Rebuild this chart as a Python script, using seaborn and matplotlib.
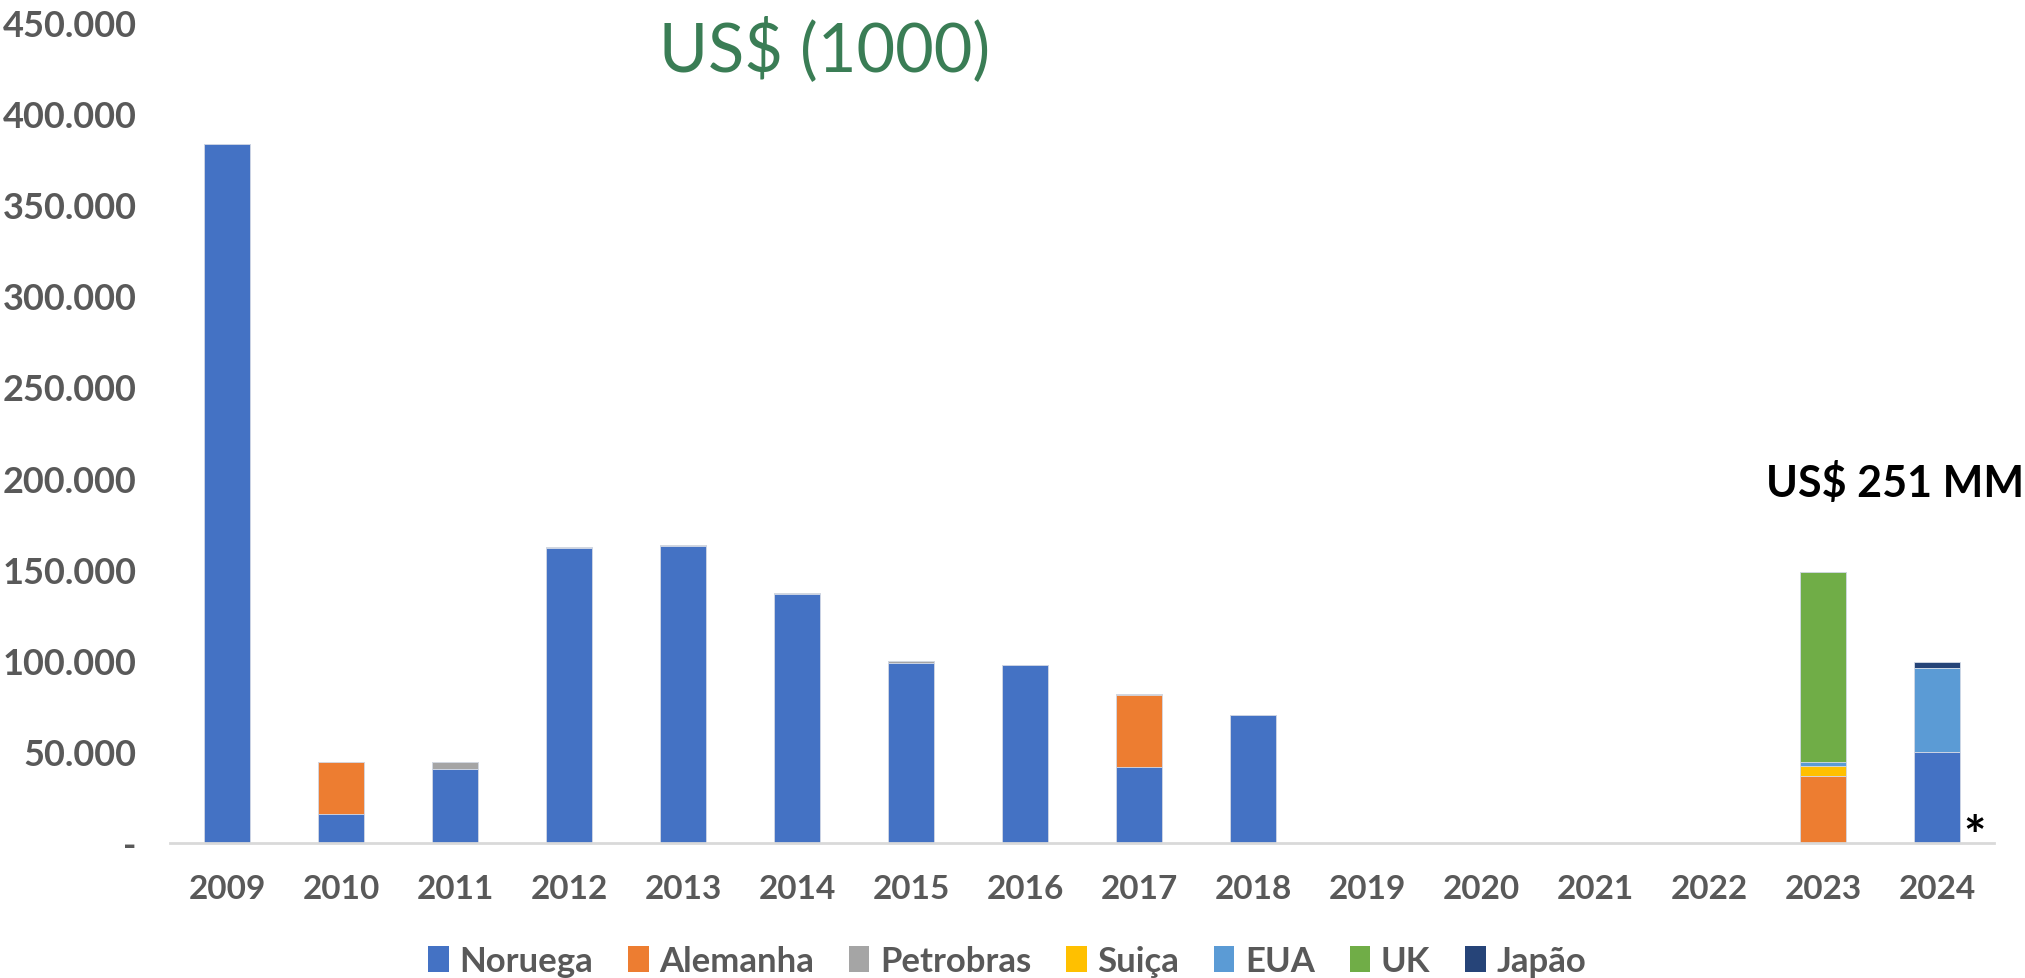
import numpy as np
import pandas as pd
import seaborn as sns
import matplotlib.pyplot as plt
from matplotlib.patches import Patch
from matplotlib.ticker import FuncFormatter

years = [str(y) for y in range(2009, 2025)]

# US$ (1000)
noruega   = [383000, 15700, 40300, 161700, 163000, 136700, 98500, 97800, 41700, 69900, 0, 0, 0, 0, 0, 49800]
alemanha  = [0, 28700, 0, 0, 0, 0, 0, 0, 39300, 0, 0, 0, 0, 0, 36500, 0]
petrobras = [0, 0, 4300, 500, 300, 500, 1100, 0, 900, 0, 0, 0, 0, 0, 0, 0]
suica     = [0, 0, 0, 0, 0, 0, 0, 0, 0, 0, 0, 0, 0, 0, 5500, 0]
eua       = [0, 0, 0, 0, 0, 0, 0, 0, 0, 0, 0, 0, 0, 0, 2500, 46200]
uk        = [0, 0, 0, 0, 0, 0, 0, 0, 0, 0, 0, 0, 0, 0, 104000, 0]
japao     = [0, 0, 0, 0, 0, 0, 0, 0, 0, 0, 0, 0, 0, 0, 0, 3300]

series_names = ["Noruega", "Alemanha", "Petrobras", "Suiça", "EUA", "UK", "Japão"]
series_vals = [noruega, alemanha, petrobras, suica, eua, uk, japao]
colors = ["#4472C4", "#ED7D31", "#A5A5A5", "#FFC000", "#5B9BD5", "#70AD47", "#264478"]

sns.set_style("white")
plt.rcParams['font.family'] = ['Lato', 'DejaVu Sans']

df = pd.DataFrame(dict(zip(series_names, series_vals)), index=years)
cum = df.cumsum(axis=1)

fig = plt.figure(figsize=(20.25, 9.79), dpi=100)
ax = fig.add_axes([0.084, 0.1379, 0.9007, 0.8386])

# stacked bars: draw cumulative totals from the top series down
for name, col in reversed(list(zip(series_names, colors))):
    sns.barplot(x=years, y=cum[name].values, color=col, saturation=1,
                width=0.41, ax=ax, edgecolor="#D6DCE8", linewidth=0.6)

ax.set_xlim(-0.5, 15.5)
ax.set_ylim(0, 450000)
ax.set_yticks(np.arange(0, 450001, 50000))
ax.yaxis.set_major_formatter(FuncFormatter(
    lambda v, p: "-" if v == 0 else f"{int(v):,}".replace(",", ".")))
ax.tick_params(axis="both", length=0, labelsize=24, labelcolor="#595959")
ax.tick_params(axis="y", pad=24, labelsize=26)
ax.tick_params(axis="x", pad=22)
for lab in ax.get_xticklabels() + ax.get_yticklabels():
    lab.set_fontweight("bold")
ax.set_xlabel("")
ax.set_ylabel("")
sns.despine(ax=ax, left=True)
ax.spines["bottom"].set_color("#D9D9D9")
ax.spines["bottom"].set_linewidth(2)

fig.text(825 / 2025, 1 - 50 / 979, "US$ (1000)", color="#3A7D55",
         fontsize=48, ha="center", va="center")
fig.text(1895 / 2025, 1 - 483 / 979, "US$ 251 MM", color="black",
         fontsize=31, fontweight="bold", ha="center", va="center")
fig.text(1975 / 2025, 1 - 840 / 979, "*", color="black",
         fontsize=38, fontweight="bold", ha="center", va="center")

handles = [Patch(facecolor=c, edgecolor="none") for c in colors]
leg = fig.legend(handles, series_names, loc="center", bbox_to_anchor=(1007 / 2025, 1 - 962 / 979),
                 ncol=7, frameon=False, handlelength=0.6, handleheight=0.75,
                 handletextpad=0.3, columnspacing=1.0, prop={"size": 25, "weight": "bold"})
for t in leg.get_texts():
    t.set_color("#595959")

plt.savefig("out.png", dpi=100)
